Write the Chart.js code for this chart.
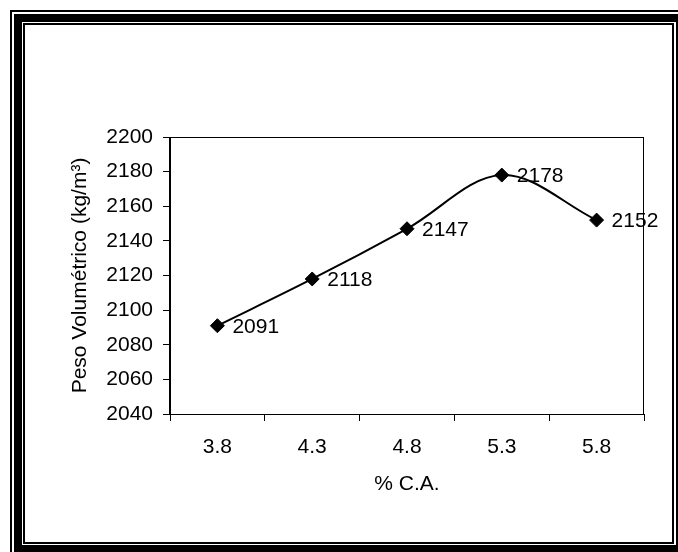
<!DOCTYPE html>
<html>
<head>
<meta charset="utf-8">
<script src="https://cdn.jsdelivr.net/npm/chart.js@4/dist/chart.umd.min.js"></script>
<style>
  html, body { margin: 0; padding: 0; background: #fff; overflow: hidden; }
  #wrap { position: relative; width: 678px; height: 552px; overflow: hidden; }
  #chart { position: absolute; left: 0; top: 0; }
  .frame { position: absolute; box-sizing: border-box; border-style: solid; border-color: #000; pointer-events: none; }
</style>
</head>
<body>
<div id="wrap">
  <canvas id="chart" width="678" height="552"></canvas>
  <div class="frame" style="left:10px;top:10px;width:680px;height:551px;border-width:2px;"></div>
  <div class="frame" style="left:14px;top:14px;width:670px;height:539px;border-width:8px;"></div>
  <div class="frame" style="left:23px;top:23px;width:651px;height:521px;border-width:2px;"></div>
</div>
<script>
  const categories = ['3.8', '4.3', '4.8', '5.3', '5.8'];
  const pesoVolumetrico = [2091, 2118, 2147, 2178, 2152];
  const yMin = 2040;
  const yMax = 2200;
  const yStep = 20;

  const FONT = 'Liberation Sans, Arial, sans-serif';
  const FSIZE = 21;

  // value labels next to each marker
  const pointLabels = {
    id: 'pointLabels',
    afterDatasetsDraw(chart) {
      const ctx = chart.ctx;
      const meta = chart.getDatasetMeta(0);
      ctx.save();
      ctx.font = FSIZE + 'px ' + FONT;
      ctx.fillStyle = '#000';
      ctx.textAlign = 'left';
      ctx.textBaseline = 'middle';
      meta.data.forEach((pt, i) => {
        ctx.fillText(String(pesoVolumetrico[i]), pt.x + 15, pt.y + 1);
      });
      ctx.restore();
    }
  };

  // box around the plot area
  const plotBox = {
    id: 'plotBox',
    beforeDatasetsDraw(chart) {
      const a = chart.chartArea;
      const ctx = chart.ctx;
      ctx.save();
      ctx.strokeStyle = '#000';
      ctx.lineWidth = 1;
      ctx.strokeRect(Math.round(a.left) - 0.5, Math.round(a.top) + 0.5, Math.round(a.right - a.left), Math.round(a.bottom - a.top));
      ctx.restore();
    }
  };

  new Chart(document.getElementById('chart'), {
    type: 'line',
    data: {
      labels: categories,
      datasets: [{
        data: pesoVolumetrico,
        borderColor: '#000',
        borderWidth: 2,
        tension: 0.35,
        fill: false,
        pointStyle: 'rectRot',
        pointRadius: 7,
        pointBackgroundColor: '#000',
        pointBorderColor: '#000',
        pointBorderWidth: 1,
        clip: false
      }]
    },
    options: {
      responsive: false,
      animation: false,
      events: [],
      layout: { autoPadding: false, padding: { top: 137, right: 34, left: 0, bottom: 0 } },
      plugins: {
        legend: { display: false },
        tooltip: { enabled: false }
      },
      scales: {
        x: {
          type: 'category',
          offset: true,
          afterFit(scale) { scale.height = 138; },
          grid: { display: true, offset: true, drawOnChartArea: false, drawTicks: true, tickLength: 7, color: '#000', lineWidth: 1 },
          border: { display: true, color: '#000', width: 1 },
          ticks: { color: '#000', padding: 14, font: { family: FONT, size: FSIZE }, maxRotation: 0 },
          title: { display: true, text: '% C.A.', color: '#000', font: { family: FONT, size: FSIZE }, padding: { top: 0, bottom: 55 } }
        },
        y: {
          min: yMin,
          max: yMax,
          afterFit(scale) { scale.width = 170; },
          grid: { display: true, drawOnChartArea: false, drawTicks: true, tickLength: 7, color: '#000', lineWidth: 1 },
          border: { display: true, color: '#000', width: 1 },
          ticks: { stepSize: yStep, color: '#000', padding: 10, font: { family: FONT, size: FSIZE }, callback: (v) => String(v) },
          title: { display: true, text: 'Peso Volumétrico (kg/m³)', color: '#000', font: { family: FONT, size: FSIZE }, padding: { top: 68, bottom: 0 } }
        }
      }
    },
    plugins: [plotBox, pointLabels]
  });
</script>
</body>
</html>
